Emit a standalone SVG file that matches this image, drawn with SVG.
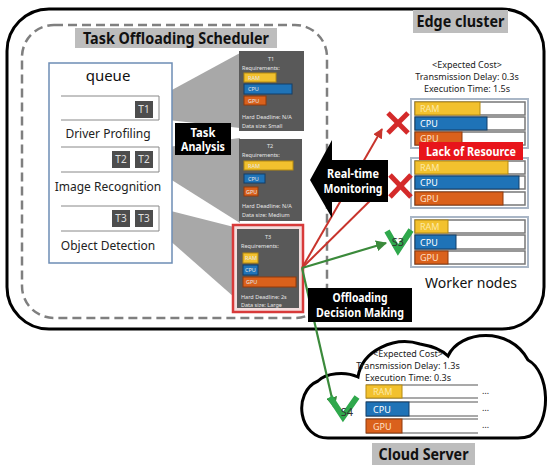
<svg xmlns="http://www.w3.org/2000/svg" width="550" height="470" viewBox="0 0 550 470">
<defs>
<style>
.t{font-family:"Noto Sans","Liberation Sans",sans-serif}
.lbl{font-family:"Noto Sans","Liberation Sans",sans-serif;font-weight:bold;font-size:16px;fill:#111}
.wl{font-family:"Noto Sans","Liberation Sans",sans-serif;font-weight:bold;font-size:11.5px;fill:#fff}
.card{fill:#595959}
.ct{font-family:"Noto Sans","Liberation Sans",sans-serif;font-size:5.5px;fill:#e6e6e6}
.q{font-family:"Noto Sans","Liberation Sans",sans-serif;font-size:12px;fill:#222}
.tb{fill:#4d4d4d}
.tt{font-family:"Noto Sans","Liberation Sans",sans-serif;font-size:10px;fill:#e0e0e0}
.ram{fill:#f2c12e;stroke:#b58a10;stroke-width:1}
.cpu{fill:#1f73b7;stroke:#123f68;stroke-width:1}
.gpu{fill:#da611c;stroke:#8f3a0c;stroke-width:1}
.bar{fill:#fff;stroke:#777;stroke-width:1.5}
.grp{fill:#fff;stroke:#a9b6c6;stroke-width:2}
.bt{font-family:"Noto Sans","Liberation Sans",sans-serif;font-size:9px}
.cost{font-family:"Noto Sans","Liberation Sans",sans-serif;font-size:9px;fill:#222}
.fan{fill:#a8a8a8}
.red{stroke:#c8342c;stroke-width:2;fill:none}
.grn{stroke:#3b8a3b;stroke-width:2.2;fill:none}
.x{stroke:#d42a2a;stroke-width:5;stroke-linecap:butt}
.chk{fill:none;stroke:#2fa84c;stroke-width:6;stroke-linejoin:miter}
</style>
<marker id="ar" viewBox="0 0 10 10" refX="9" refY="5" markerWidth="5" markerHeight="5" orient="auto"><path d="M0,0 L10,5 L0,10 z" fill="#c8342c"/></marker>
<marker id="ag" viewBox="0 0 10 10" refX="9" refY="5" markerWidth="5" markerHeight="5" orient="auto"><path d="M0,0 L10,5 L0,10 z" fill="#3b8a3b"/></marker>
</defs>
<rect width="550" height="470" fill="#fff"/>

<g id="edge-cluster">
<rect x="7" y="9" width="537" height="320" rx="42" fill="none" stroke="#000" stroke-width="3"/>
<rect x="413" y="10" width="95" height="23" fill="#bdbdbd"/>
<text class="lbl" x="460.5" y="27" text-anchor="middle" textLength="88" lengthAdjust="spacingAndGlyphs">Edge cluster</text>
</g>

<g id="scheduler">
<rect x="22" y="25" width="305" height="293" rx="32" fill="none" stroke="#7f7f7f" stroke-width="2.5" stroke-dasharray="9 5"/>
<rect x="75" y="28" width="202" height="20" fill="#bdbdbd"/>
<text class="lbl" x="176" y="44" text-anchor="middle" textLength="186" lengthAdjust="spacingAndGlyphs">Task Offloading Scheduler</text>
</g>

<g id="fans">
<polygon class="fan" points="159,97 240,53 240,128 159,119"/>
<polygon class="fan" points="159,148 240,138 240,223 159,172"/>
<polygon class="fan" points="159,208 234,227 234,297 159,231"/>
</g>

<g id="queue">
<rect x="49" y="63" width="123" height="200" fill="#fff" stroke="#6d8db5" stroke-width="1.5"/>
<text class="t" x="108" y="81" text-anchor="middle" font-size="15" fill="#111">queue</text>
<path d="M61,96 H159 V120 H61" fill="none" stroke="#888" stroke-width="1"/>
<rect class="tb" x="135" y="101" width="18" height="17"/>
<text class="tt" x="144" y="113" text-anchor="middle">T1</text>
<text class="q" x="108" y="138" text-anchor="middle">Driver Profiling</text>
<path d="M61,147 H159 V172 H61" fill="none" stroke="#888" stroke-width="1"/>
<rect class="tb" x="112" y="151" width="18" height="17"/>
<text class="tt" x="121" y="163" text-anchor="middle">T2</text>
<rect class="tb" x="135" y="151" width="18" height="17"/>
<text class="tt" x="144" y="163" text-anchor="middle">T2</text>
<text class="q" x="108" y="191" text-anchor="middle">Image Recognition</text>
<path d="M61,206 H159 V231 H61" fill="none" stroke="#888" stroke-width="1"/>
<rect class="tb" x="112" y="210" width="18" height="17"/>
<text class="tt" x="121" y="222" text-anchor="middle">T3</text>
<rect class="tb" x="135" y="210" width="18" height="17"/>
<text class="tt" x="144" y="222" text-anchor="middle">T3</text>
<text class="q" x="108" y="250" text-anchor="middle">Object Detection</text>
</g>

<g id="card-t1">
<rect class="card" x="239" y="51" width="65" height="80"/>
<text class="ct" x="271" y="61" text-anchor="middle">T1</text>
<text class="ct" x="242" y="70">Requirements:</text>
<rect class="ram" x="244" y="73" width="32" height="9"/>
<text class="ct" x="248" y="80" fill="#fbe8a0">RAM</text>
<rect class="cpu" x="244" y="84" width="48" height="10"/>
<text class="ct" x="248" y="91">CPU</text>
<rect class="gpu" x="244" y="96" width="22" height="9"/>
<text class="ct" x="248" y="103">GPU</text>
<text class="ct" x="242" y="119">Hard Deadline: N/A</text>
<text class="ct" x="242" y="128">Data size: Small</text>
</g>
<g id="card-t2">
<rect class="card" x="239" y="139" width="63" height="82"/>
<text class="ct" x="270" y="148" text-anchor="middle">T2</text>
<text class="ct" x="242" y="157">Requirements:</text>
<rect class="ram" x="244" y="161" width="49" height="9"/>
<text class="ct" x="248" y="168" fill="#fbe8a0">RAM</text>
<rect class="cpu" x="244" y="174" width="21" height="9"/>
<text class="ct" x="248" y="181">CPU</text>
<rect class="gpu" x="244" y="187" width="14" height="9"/>
<text class="ct" x="246" y="194">GPU</text>
<text class="ct" x="242" y="208">Hard Deadline: N/A</text>
<text class="ct" x="242" y="217">Data size: Medium</text>
</g>
<g id="card-t3">
<rect x="233" y="225" width="70" height="87" fill="#f3dede" stroke="#d83a3a" stroke-width="2.5"/>
<rect class="card" x="237" y="229" width="62" height="79"/>
<text class="ct" x="268" y="239" text-anchor="middle">T3</text>
<text class="ct" x="241" y="248">Requirements:</text>
<rect class="ram" x="243" y="253" width="15" height="10"/>
<text class="ct" x="245" y="260" fill="#fbe8a0">RAM</text>
<rect class="cpu" x="243" y="265" width="15" height="10"/>
<text class="ct" x="245" y="272">CPU</text>
<rect class="gpu" x="243" y="277" width="53" height="10"/>
<text class="ct" x="246" y="284">GPU</text>
<text class="ct" x="241" y="299">Hard Deadline: 2s</text>
<text class="ct" x="241" y="307">Data size: Large</text>
</g>

<g id="task-analysis">
<rect x="175" y="123" width="56" height="32" fill="#000"/>
<text class="wl" x="203" y="137" text-anchor="middle" textLength="25" lengthAdjust="spacingAndGlyphs">Task</text>
<text class="wl" x="203" y="151" text-anchor="middle" textLength="44" lengthAdjust="spacingAndGlyphs">Analysis</text>
</g>

<g id="worker-1">
<rect class="grp" x="411" y="99" width="117" height="49"/>
<rect class="bar" x="415" y="102" width="110" height="13"/>
<rect class="ram" x="415" y="102" width="65" height="13"/>
<text class="bt" x="420" y="112" fill="#fde9a6">RAM</text>
<rect class="bar" x="415" y="117" width="110" height="13"/>
<rect class="cpu" x="415" y="117" width="72" height="13"/>
<text class="bt" x="420" y="127" fill="#fff">CPU</text>
<rect class="bar" x="415" y="132" width="110" height="13"/>
<rect class="gpu" x="415" y="132" width="47" height="13"/>
<text class="bt" x="420" y="142" fill="#ffe0c8">GPU</text>
</g>
<g id="worker-2">
<rect class="grp" x="411" y="158" width="117" height="50"/>
<rect class="bar" x="415" y="161" width="110" height="13"/>
<rect class="ram" x="415" y="161" width="93" height="13"/>
<text class="bt" x="420" y="171" fill="#fde9a6">RAM</text>
<rect class="bar" x="415" y="176" width="110" height="13"/>
<rect class="cpu" x="415" y="176" width="104" height="13"/>
<text class="bt" x="420" y="186" fill="#fff">CPU</text>
<rect class="bar" x="415" y="192" width="110" height="13"/>
<rect class="gpu" x="415" y="192" width="88" height="13"/>
<text class="bt" x="420" y="202" fill="#ffe0c8">GPU</text>
</g>
<g id="lack-of-resource">
<rect x="419" y="142" width="104" height="18" fill="#e8141b"/>
<text class="wl" x="471" y="155.5" text-anchor="middle" textLength="90" lengthAdjust="spacingAndGlyphs">Lack of Resource</text>
</g>
<g id="worker-3">
<rect class="grp" x="411" y="217" width="117" height="50"/>
<rect class="bar" x="415" y="220" width="110" height="13"/>
<rect class="ram" x="415" y="220" width="33" height="13"/>
<text class="bt" x="420" y="230" fill="#fde9a6">RAM</text>
<rect class="bar" x="415" y="235" width="110" height="14"/>
<rect class="cpu" x="415" y="235" width="41" height="14"/>
<text class="bt" x="420" y="246" fill="#fff">CPU</text>
<rect class="bar" x="415" y="251" width="110" height="13"/>
<rect class="gpu" x="415" y="251" width="33" height="13"/>
<text class="bt" x="420" y="261" fill="#ffe0c8">GPU</text>
</g>
<g id="edge-cost">
<text class="cost" x="467" y="68" text-anchor="middle">&lt;Expected Cost&gt;</text>
<text class="cost" x="467" y="80" text-anchor="middle">Transmission Delay: 0.3s</text>
<text class="cost" x="467" y="92" text-anchor="middle">Execution Time: 1.5s</text>
<text class="t" x="471" y="288" text-anchor="middle" font-size="14" fill="#111">Worker nodes</text>
</g>

<g id="cloud">
<path d="M330,438 C298,440 292,392 318,381 C326,373 345,371 358,377 C362,350 395,336 420,344 C432,346 442,350 448,356 C460,330 510,326 528,360 C550,372 552,422 530,436 C525,438 522,438 518,438 Z" fill="#fff" stroke="#000" stroke-width="3"/>
<text class="cost" x="408" y="357" text-anchor="middle">&lt;Expected Cost&gt;</text>
<text class="cost" x="408" y="369" text-anchor="middle">Transmission Delay: 1.3s</text>
<text class="cost" x="408" y="381" text-anchor="middle">Execution Time: 0.3s</text>
<path d="M366,385 H478 M366,398 H478 M366,402 H478 M366,416 H478 M366,419 H478 M366,433 H478" stroke="#555" stroke-width="1.2"/>
<rect class="ram" x="366" y="385" width="36" height="13"/>
<text class="bt" x="373" y="395" fill="#fde9a6">RAM</text>
<rect class="cpu" x="366" y="402" width="43" height="14"/>
<text class="bt" x="373" y="413" fill="#fff">CPU</text>
<rect class="gpu" x="366" y="419" width="36" height="14"/>
<text class="bt" x="373" y="430" fill="#ffe0c8">GPU</text>
<text class="cost" x="482" y="394">…</text>
<text class="cost" x="482" y="411">…</text>
<text class="cost" x="482" y="428">…</text>
<rect x="372" y="443" width="103" height="22" fill="#bdbdbd"/>
<text class="lbl" x="423.5" y="460" text-anchor="middle" textLength="90" lengthAdjust="spacingAndGlyphs">Cloud Server</text>
</g>

<g id="connectors">
<line class="red" x1="302" y1="268" x2="382" y2="129" marker-end="url(#ar)"/>
<line class="red" x1="302" y1="268" x2="386" y2="185" marker-end="url(#ar)"/>
<line class="grn" x1="302" y1="268" x2="386" y2="243" marker-end="url(#ag)"/>
<line class="grn" x1="302" y1="268" x2="334" y2="407" marker-end="url(#ag)"/>
</g>

<g id="marks">
<line class="x" x1="388" y1="113" x2="408" y2="133"/>
<line class="x" x1="408" y1="113" x2="388" y2="133"/>
<line class="x" x1="390" y1="175" x2="411" y2="197"/>
<line class="x" x1="411" y1="175" x2="390" y2="197"/>
<polyline class="chk" points="387,231 398,250 411,230"/>
<text class="t" x="398" y="246" text-anchor="middle" font-size="11" fill="#333">S3</text>
<polyline class="chk" points="330,397 343,417 357,397"/>
<text class="t" x="347" y="416" text-anchor="middle" font-size="11" fill="#333">S4</text>
</g>

<g id="real-time-monitoring">
<polygon points="310,180 332,140 332,160 388,160 388,202 332,202 332,218" fill="#000"/>
<text class="wl" x="353" y="178" text-anchor="middle" textLength="52" lengthAdjust="spacingAndGlyphs">Real-time</text>
<text class="wl" x="353" y="193" text-anchor="middle" textLength="59" lengthAdjust="spacingAndGlyphs">Monitoring</text>
</g>
<g id="offloading-decision">
<rect x="308" y="288" width="104" height="34" fill="#000"/>
<text class="wl" x="360" y="302" text-anchor="middle" textLength="55" lengthAdjust="spacingAndGlyphs">Offloading</text>
<text class="wl" x="360" y="317" text-anchor="middle" textLength="88" lengthAdjust="spacingAndGlyphs">Decision Making</text>
</g>
</svg>
